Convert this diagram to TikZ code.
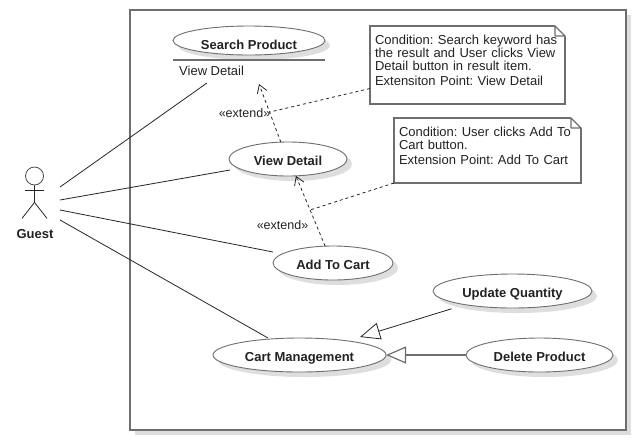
\documentclass[tikz,border=0pt]{standalone}
\usepackage{fontspec}
\setmainfont{Liberation Sans}
\frenchspacing
\usetikzlibrary{positioning}
\usetikzlibrary{arrows.meta}
\usetikzlibrary{shapes.geometric}
\usetikzlibrary{shadows}
\definecolor{umlline}{HTML}{6E6E6E}
\definecolor{umltext}{HTML}{222222}
\tikzset{
  softshadow/.style={general shadow={shadow xshift=5pt,shadow yshift=-5pt,fill=black!13}},
  usecase/.style={ellipse, draw=umlline, fill=white, line width=0.9pt, inner sep=0pt, outer sep=0pt,
    text depth=0pt, text=umltext, softshadow, font=\fontsize{13}{15}\selectfont\bfseries},
  notebox/.style={draw=umlline, fill=white, line width=1.4pt, align=left, inner xsep=5pt, inner ysep=6pt,
    outer sep=0pt, anchor=north west, text=umltext, font=\fontsize{13}{13}\selectfont},
  assoc/.style={line width=0.8pt, black!85},
  extendline/.style={line width=0.8pt, black!85, dash pattern=on 3pt off 3pt},
  gen/.style={line width=0.8pt, black!85, -{Triangle[open,length=20pt,width=17pt]}},
  plainlabel/.style={text=umltext, inner sep=0pt, font=\fontsize{12.5}{14}\selectfont},
}
\begin{document}
\begin{tikzpicture}[x=1pt, y=-1pt]
  \useasboundingbox (0,0) rectangle (636,440);
  \node[draw=umlline, fill=white, line width=1.6pt, minimum width=496pt, minimum height=420pt, inner sep=0pt,
    softshadow] (boundary) at (378,220) {};
  % use cases
  \foreach \nm/\lbl/\cx/\cy/\wdt/\hgt/\base in {searchproduct/Search Product/249/40.5/152/29/17,
      viewdetail/View Detail/288/159/118/34/13.4, addtocart/Add To Cart/333/263/120/34/12.4,
      updatequantity/Update Quantity/512.5/291/159/34/12.4, deleteproduct/Delete Product/539.5/355/147/34/12.4,
      cartmanagement/Cart Management/299.5/355/173/34/12.4} {
    \node[usecase, minimum width=\wdt pt, minimum height=\hgt pt, text height=\base pt] (\nm) at (\cx,\cy) {\lbl};
  }
  \draw[umlline, line width=1.4pt] (searchproduct.west |- 0,60) -- (searchproduct.east |- 0,60);
  \node[plainlabel, inner xsep=5pt, inner ysep=7pt, anchor=west, font=\fontsize{13}{15}\selectfont] (searchdetail) at (174,71) {View Detail};
  % actor
  \node[circle, draw=black!70, line width=0.8pt, minimum size=18pt, inner sep=0pt] (guesthead) at (34.5,176) {};
  \draw[assoc] (guesthead.south) -- ++(0,17) coordinate (guesthip) -- ++(-12.5,16);
  \draw[assoc] (guesthip) -- ++(12.5,16);
  \draw[assoc] (25,190.5) -- (44,190.5);
  \node[text=umltext, inner sep=0pt, font=\fontsize{13}{15}\selectfont\bfseries] (guest) at (35,234) {Guest};
  \foreach \i/\y in {1/187,2/200,3/210,4/220} {
    \coordinate (guest-\i) at (60,\y);
  }
  \coordinate (viewdetailend) at (230,170);
  \coordinate (addtocartend) at (273,252);
  \coordinate (cartend) at (268,338);
  \draw[assoc] (guest-1) -- (searchdetail.-111);
  \draw[assoc] (guest-2) -- (viewdetailend);
  \draw[assoc] (guest-3) -- (addtocartend);
  \draw[assoc] (guest-4) -- (cartend);
  % generalisations
  \coordinate (cartgen) at (360,337);
  \draw[gen, shorten <=14pt] (updatequantity.196) -- (cartgen);
  \draw[gen, umlline, line width=1.2pt] (deleteproduct.west) -- (cartmanagement.east);
  % notes
  \node[notebox, text width=185pt] (noteone) at (370,26)
    {\rule{0pt}{12pt}Condition: Search keyword has\\the result and User clicks View\\Detail button in result item.\\[2pt]Extensiton Point: View Detail\\\mbox{}};
  \node[notebox, text width=177pt] (notetwo) at (394,118)
    {\rule{0pt}{12pt}Condition: User clicks Add To\\Cart button.\\[2pt]Extension Point: Add To Cart\\\mbox{}};
  \foreach \nt in {noteone,notetwo} {
    \fill[white] (\nt.north east) ++(-10.7,-1) -- ++(11.7,0) -- ++(0,11.7) -- cycle;
    \draw[umlline, line width=1.4pt, line join=round] (\nt.north east) ++(-10,0) -- ++(10,10) -- ++(-10,0) -- cycle;
  }
  % extend
  \coordinate (searchtip) at (259,84);
  \coordinate (extendone) at (270,112);
  \coordinate (extendtwo) at (310,210);
  \draw[extendline, -{Straight Barb[length=8pt,width=10pt]}] (viewdetail.113) -- (searchtip);
  \draw[extendline, -{Straight Barb[length=8pt,width=10pt]}] (addtocart.115) -- (viewdetail.-65);
  \draw[extendline] (noteone.west |- 0,88.5) -- (extendone);
  \draw[extendline] (notetwo.south west) -- (extendtwo);
  \node[plainlabel] (extendlabelone) at (244.5,113) {«extend»};
  \node[plainlabel] (extendlabeltwo) at (282.5,225) {«extend»};
\end{tikzpicture}
\end{document}
